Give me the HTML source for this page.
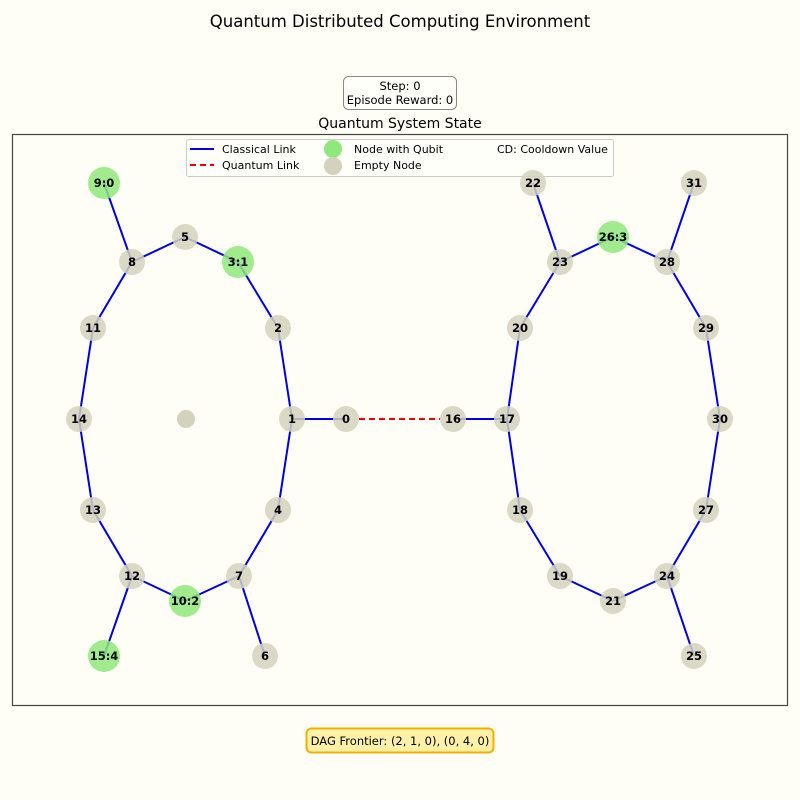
<!DOCTYPE html>
<html><head><meta charset="utf-8"><style>
body{margin:0;background:#fefef6;}
svg{display:block;font-family:"DejaVu Sans","Liberation Sans",sans-serif;}
</style></head><body>
<svg id="chart" width="800" height="800" viewBox="0 0 800 800">
<rect x="0" y="0" width="800" height="800" fill="#fefef6"/>
<text x="400" y="27" font-size="16.5" text-anchor="middle" fill="#000">Quantum Distributed Computing Environment</text>
<g>
<rect x="343.5" y="76.5" width="113" height="33" rx="5" fill="#fffffa" stroke="#888" stroke-width="1"/>
<text x="400" y="90" font-size="11.5" text-anchor="middle">Step: 0</text>
<text x="400" y="104" font-size="11.5" text-anchor="middle">Episode Reward: 0</text>
</g>
<text x="400" y="128" font-size="14" text-anchor="middle">Quantum System State</text>
<rect x="12.5" y="134.5" width="775" height="571" fill="none" stroke="#444" stroke-width="1.2"/>
<g>
<rect x="186.5" y="139.5" width="427" height="37" rx="2" fill="#fffffa" stroke="#ccc" stroke-width="1"/>
<g><line x1="190" y1="149" x2="214" y2="149" stroke="#0000dd" stroke-width="2"/><text x="222" y="153" font-size="11">Classical Link</text></g>
<g><line x1="190" y1="165" x2="214" y2="165" stroke="#ee0000" stroke-width="2" stroke-dasharray="6,4"/><text x="222" y="169" font-size="11">Quantum Link</text></g>
<g><circle cx="333" cy="149" r="9" fill="#8fe87a"/><text x="354" y="153" font-size="11">Node with Qubit</text></g>
<g><circle cx="333" cy="166" r="9" fill="#d4d2bc"/><text x="354" y="169" font-size="11">Empty Node</text></g>
<text x="497" y="153" font-size="11">CD: Cooldown Value</text>
</g>
<g id="edges"></g>
<g id="nodes"></g>
<g>
<rect x="306.5" y="728.5" width="187" height="24" rx="5" fill="#fff2a8" stroke="#f0b000" stroke-width="2"/>
<text x="400" y="745" font-size="11.5" text-anchor="middle">DAG Frontier: (2, 1, 0), (0, 4, 0)</text>
</g>
</svg>
<script>
const nodeIds=[0,1,2,3,4,5,6,7,8,9,10,11,12,13,14,15,16,17,18,19,20,21,22,23,24,25,26,27,28,29,30,31];
const nodeX=[346,292,278,238,278,185,265,239,132,104,185,93,132,93,79,104,453,507,520,560,520,613,533,560,667,694,613,706,667,706,720,694];
const nodeY=[419,419,328,262,510,237,656,576,262,183,601,328,576,510,419,656,419,419,510,576,328,601,183,262,576,656,237,510,262,328,419,183];
const cooldown=[null,null,null,1,null,null,null,null,null,0,2,null,null,null,null,4,null,null,null,null,null,null,null,null,null,null,3,null,null,null,null,null];
const classicalEdges=[[0,1],[1,2],[2,3],[3,5],[5,8],[8,9],[8,11],[11,14],[14,13],[13,12],[12,15],[12,10],[10,7],[7,6],[7,4],[4,1],[17,16],[17,20],[20,23],[23,22],[23,26],[26,28],[28,31],[28,29],[29,30],[30,27],[27,24],[24,25],[24,21],[21,19],[19,18],[18,17]];
const quantumEdges=[[0,16]];
const NS="http://www.w3.org/2000/svg";
const eg=document.getElementById('edges'), ng=document.getElementById('nodes');
const xs=i=>nodeX[i], ys=i=>nodeY[i];
classicalEdges.forEach(([a,b])=>{
  const l=document.createElementNS(NS,'line');
  l.setAttribute('x1',xs(a));l.setAttribute('y1',ys(a));l.setAttribute('x2',xs(b));l.setAttribute('y2',ys(b));
  l.setAttribute('stroke','#0000dd');l.setAttribute('stroke-width','2');
  
  
  eg.appendChild(l);
});
quantumEdges.forEach(([a,b])=>{
  const l=document.createElementNS(NS,'line');
  l.setAttribute('x1',xs(a)+13);l.setAttribute('y1',ys(a));l.setAttribute('x2',xs(b)-13);l.setAttribute('y2',ys(b));
  l.setAttribute('stroke','#ee0000');l.setAttribute('stroke-width','2');l.setAttribute('stroke-dasharray','6,4');
  
  
  eg.appendChild(l);
});
const extra=document.createElementNS(NS,'circle');
extra.setAttribute('cx',186);extra.setAttribute('cy',419);extra.setAttribute('r',9);extra.setAttribute('fill','#d4d2bc');


ng.appendChild(extra);
nodeIds.forEach((id,i)=>{
  const g=document.createElementNS(NS,'g');
  
  
  const q=cooldown[i]!==null;
  const c=document.createElementNS(NS,'circle');
  c.setAttribute('cx',xs(i));c.setAttribute('cy',ys(i));c.setAttribute('r',q?16:13);
  c.setAttribute('fill',q?'#8fe87a':'#d4d2bc');c.setAttribute('fill-opacity','0.85');
  g.appendChild(c);
  const t=document.createElementNS(NS,'text');
  t.setAttribute('x',xs(i));t.setAttribute('y',ys(i)+4);t.setAttribute('text-anchor','middle');
  t.setAttribute('font-size','11.5');t.setAttribute('font-weight','bold');
  t.textContent=q?(id+':'+cooldown[i]):String(id);
  g.appendChild(t);
  ng.appendChild(g);
});
</script>
</body></html>
